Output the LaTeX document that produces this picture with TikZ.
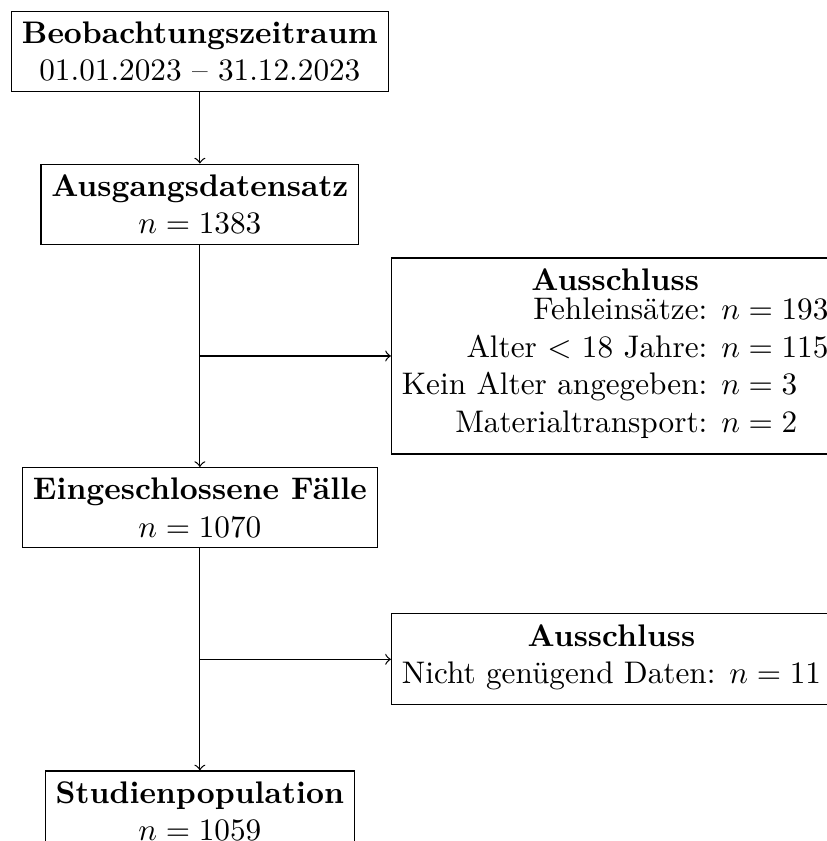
\documentclass[tikz,border=0pt]{standalone}
\usepackage{tikz}
\usetikzlibrary{positioning,calc}

\begin{document}
\begin{tikzpicture}[
      node distance=2.5cm,
      block/.style={rectangle, draw, align=center, fill=white},
      excl/.style={rectangle, draw, align=center, fill=white}
    ]
    \useasboundingbox (-64.0pt,16.5pt) rectangle (200.8pt,-252.8pt);
    \node[block] (period) {\textbf{Beobachtungszeitraum}\\ 01.01.2023 -- 31.12.2023};
    \node[block, below=0.8cm of period] (raw) {\textbf{Ausgangsdatensatz}\\ $n = 1383$};
    \node[block, below=of raw] (incl) {\textbf{Eingeschlossene Fälle}\\ $n = 1070$};
    \node[block, below=of incl] (study) {\textbf{Studienpopulation}\\ $n = 1059$};
    \coordinate (m1) at ($(raw.south)!0.5!(incl.north)$);
    \coordinate (m2) at ($(incl.south)!0.5!(study.north)$);
    \node[excl, right=2.15cm of m1] (ex1) {\textbf{Ausschluss}\\
      \begin{tabular}{@{}r@{ }l@{}}
        Fehleinsätze: & $n = 193$\\
        Alter $<$ 18 Jahre: & $n = 115$\\
        Kein Alter angegeben: & $n = 3$\\
        Materialtransport: & $n = 2$
      \end{tabular}};
    \node[excl, right=2.15cm of m2] (ex2) {\textbf{Ausschluss}\\
      \begin{tabular}{@{}r@{ }l@{}}
        Nicht genügend Daten: & $n = 11$
      \end{tabular}};
    \draw[->] (period) -- (raw);
    \draw[->] (raw) -- (incl);
    \draw[->] (incl) -- (study);
    \draw[->] (m1) -- (ex1);
    \draw[->] (m2) -- (ex2);
  \end{tikzpicture}
\end{document}
